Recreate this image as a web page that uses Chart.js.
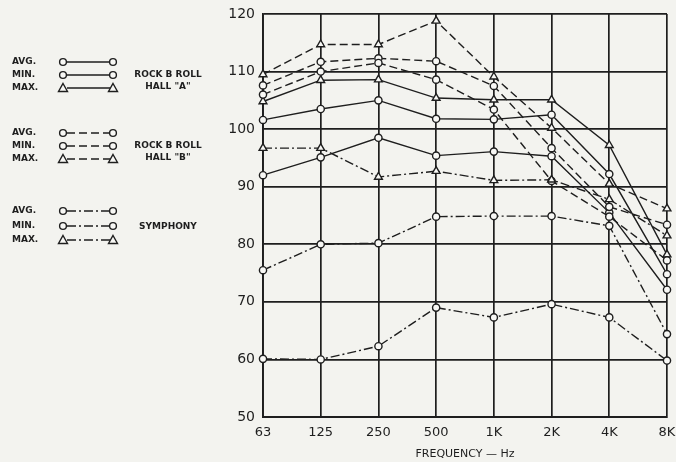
<!DOCTYPE html>
<html>
<head>
<meta charset="utf-8">
<script src="https://cdn.jsdelivr.net/npm/chart.js@4/dist/chart.umd.min.js"></script>
<style>
  html, body { margin:0; padding:0; background:#f3f3ef; }
  #wrap { width:676px; height:462px; }
</style>
</head>
<body>
<div id="wrap"><canvas id="c" width="676" height="462"></canvas></div>
<script>
// frequency bands (Hz)
const freqLabels = ['63','125','250','500','1K','2K','4K','8K'];

// Rock & Roll hall "A" (solid)
const hallAAvg = [101.6, 103.5, 105.0, 101.8, 101.7, 102.5, 92.2, 74.8];
const hallAMin = [92.0, 95.1, 98.5, 95.4, 96.1, 95.3, 85.5, 72.1];
const hallAMax = [104.8, 108.5, 108.6, 105.4, 105.1, 105.1, 97.2, 78.2];

// Rock & Roll hall "B" (dashed)
const hallBAvg = [107.6, 111.7, 112.3, 111.8, 107.5, 96.7, 86.5, 83.4];
const hallBMin = [106.0, 110.0, 111.5, 108.6, 103.4, 91.0, 84.8, 77.2];
const hallBMax = [109.5, 114.7, 114.7, 118.8, 109.1, 100.2, 90.5, 86.2];

// Symphony (dash-dot)
const symAvg = [75.5, 80.0, 80.2, 84.8, 84.9, 84.9, 83.2, 64.4];
const symMin = [60.1, 60.0, 62.3, 69.0, 67.3, 69.6, 67.3, 59.8];
const symMax = [96.7, 96.7, 91.7, 92.7, 91.1, 91.2, 87.8, 81.5];

const yTicks = [50, 60, 70, 80, 90, 100, 110, 120];

const INK = '#1e1e1e';
const SOLID = [], DASH = [8,4], DASHDOT = [9,3,2,3];

function ds(data, dash, pt) {
  return {
    data: data, borderColor: INK, borderWidth: 1.4, borderDash: dash,
    pointStyle: pt, pointRadius: pt === 'triangle' ? 4.5 : 3.6,
    pointBackgroundColor: '#f8f8f5', pointBorderColor: INK, pointBorderWidth: 1.4,
    tension: 0, fill: false
  };
}

const datasets = [
  ds(symMin, DASHDOT, 'circle'), ds(symAvg, DASHDOT, 'circle'), ds(symMax, DASHDOT, 'triangle'),
  ds(hallBMin, DASH, 'circle'), ds(hallBAvg, DASH, 'circle'), ds(hallBMax, DASH, 'triangle'),
  ds(hallAMin, SOLID, 'circle'), ds(hallAAvg, SOLID, 'circle'), ds(hallAMax, SOLID, 'triangle')
];

// key on the left side, drawn in the canvas
const keyGroups = [
  { dash: SOLID,   rows: [62, 75, 88],    name: ['ROCK B ROLL', 'HALL "A"'], nameY: 75 },
  { dash: DASH,    rows: [133, 146, 159], name: ['ROCK B ROLL', 'HALL "B"'], nameY: 146 },
  { dash: DASHDOT, rows: [211, 226, 240], name: ['SYMPHONY'], nameY: 227 }
];
const keyRows = ['AVG.', 'MIN.', 'MAX.'];

const bgPlugin = {
  id: 'bg',
  beforeDraw(chart) {
    const c = chart.ctx;
    c.save(); c.fillStyle = '#f3f3ef'; c.fillRect(0, 0, chart.width, chart.height); c.restore();
  }
};

const keyPlugin = {
  id: 'key',
  afterDraw(chart) {
    const c = chart.ctx;
    c.save();
    c.fillStyle = INK; c.strokeStyle = INK; c.lineWidth = 1.4;
    keyGroups.forEach(g => {
      g.rows.forEach((y, i) => {
        c.font = 'bold 9px "DejaVu Sans"';
        c.textAlign = 'left'; c.textBaseline = 'middle';
        c.fillText(keyRows[i], 12, y);
        c.setLineDash(g.dash);
        c.beginPath(); c.moveTo(67, y); c.lineTo(110, y); c.stroke();
        c.setLineDash([]);
        [63, 113].forEach(x => {
          c.beginPath();
          if (i === 2) { c.moveTo(x, y - 4.5); c.lineTo(x + 4.5, y + 3.5); c.lineTo(x - 4.5, y + 3.5); c.closePath(); }
          else c.arc(x, y, 3.4, 0, Math.PI * 2);
          c.fillStyle = '#f8f8f5'; c.fill(); c.stroke();
        });
        c.fillStyle = INK;
      });
      c.font = 'bold 9px "DejaVu Sans"'; c.textAlign = 'center';
      g.name.forEach((t, k) => c.fillText(t, 168, g.nameY + k * 12));
    });
    c.restore();
  }
};

new Chart(document.getElementById('c'), {
  type: 'line',
  data: { labels: freqLabels, datasets: datasets },
  plugins: [bgPlugin, keyPlugin],
  options: {
    responsive: false, animation: false,
    layout: { padding: { left: 213, right: 9, top: 14, bottom: 0 } },
    plugins: { legend: { display: false }, tooltip: { enabled: false } },
    scales: {
      x: {
        offset: false,
        grid: { color: INK, lineWidth: 1.7, drawTicks: false },
        border: { color: INK, width: 1.9 },
        ticks: { color: INK, font: { family: 'DejaVu Sans', size: 13 }, padding: 8, maxRotation: 0 },
        title: { display: true, text: 'FREQUENCY — Hz', color: INK, font: { family: 'DejaVu Sans', size: 11 }, padding: { top: 0, bottom: 1 } },
        afterFit(s) { s.height = 45; s.paddingRight = 0; s.paddingLeft = 0; }
      },
      y: {
        min: 50, max: 120,
        grid: { color: INK, lineWidth: 1.7, drawTicks: false },
        border: { color: INK, width: 1.9 },
        afterBuildTicks(s) { s.ticks = yTicks.map(v => ({ value: v })); },
        ticks: { color: INK, font: { family: 'DejaVu Sans', size: 14 }, padding: 8 },
        afterFit(s) { s.width = 50; s.paddingTop = 0; s.paddingBottom = 0; }
      }
    }
  }
});
</script>
</body>
</html>
